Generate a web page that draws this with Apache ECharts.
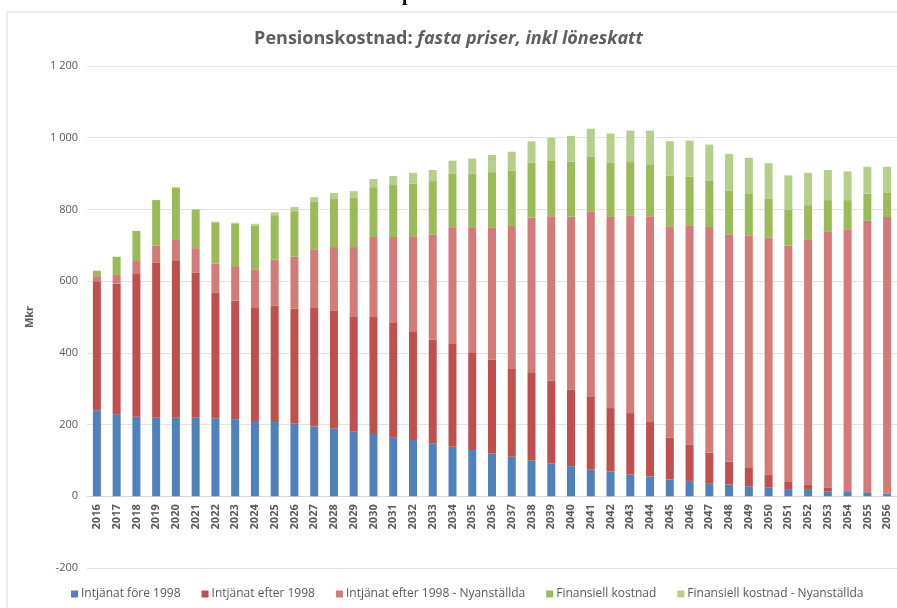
<!DOCTYPE html>
<html>
<head>
<meta charset="utf-8">
<script src="https://cdn.jsdelivr.net/npm/echarts@6/dist/echarts.min.js"></script>
<style>
  html, body { margin: 0; padding: 0; background: #fff; }
  #chart { width: 897px; height: 608px; }
</style>
</head>
<body>
<div id="chart"></div>
<script>
var years = [];
for (var y = 2016; y <= 2056; y++) {
    years.push(String(y));
}

var foreNittioatta = [240, 229, 222, 219, 219, 219, 217, 215, 210, 207, 202, 195, 188, 181, 174, 165, 157, 148, 138, 129, 119, 110, 100, 91, 84, 74, 69, 61, 55, 47, 43, 35, 33, 28, 24, 20, 18, 14, 14, 11, 7];
var efterNittioatta = [360, 364, 400, 432, 439, 405, 351, 331, 317, 325, 322, 332, 329, 319, 328, 318, 303, 289, 289, 273, 262, 247, 246, 232, 214, 205, 177, 171, 152, 117, 101, 87, 63, 51, 37, 20, 15, 11, 1, 1, 0];
var efterNyanstallda = [14, 24, 34, 48, 59, 68, 81, 96, 106, 128, 144, 162, 178, 195, 221, 240, 265, 292, 321, 346, 369, 397, 431, 458, 482, 516, 533, 552, 574, 589, 612, 629, 633, 648, 660, 659, 684, 714, 730, 756, 772];
var finansiell = [15, 51, 84, 127, 143, 108, 115, 119, 122, 124, 127, 132, 134, 137, 139, 145, 147, 150, 151, 152, 154, 155, 153, 156, 153, 153, 151, 148, 145, 141, 135, 130, 123, 116, 110, 101, 95, 87, 81, 76, 67];
var finansiellNyanstallda = [0, 0, 0, 0, 2, 0, 2, 2, 5, 8, 12, 13, 17, 19, 23, 25, 30, 31, 37, 42, 48, 52, 60, 63, 72, 77, 82, 88, 94, 96, 101, 100, 103, 101, 98, 95, 90, 84, 80, 75, 73];

var seriesNames = ['Intjänat före 1998', 'Intjänat efter 1998', 'Intjänat efter 1998 - Nyanställda', 'Finansiell kostnad', 'Finansiell kostnad - Nyanställda'];
var seriesColors = ['#4F81BD', '#C0504D', '#D27B79', '#9BBB59', '#B7CF8B'];
var seriesData = [foreNittioatta, efterNittioatta, efterNyanstallda, finansiell, finansiellNyanstallda];

var font = '"Open Sans", sans-serif';

var series = [];
for (var i = 0; i < seriesNames.length; i++) {
    series.push({
        name: seriesNames[i],
        type: 'bar',
        stack: 'total',
        barWidth: 8,
        data: seriesData[i],
        itemStyle: { color: seriesColors[i] }
    });
}

// grid: 1200 at y=66, -200 at y=568 -> 0 sits 71.7px above the bottom
var zeroOffset = -502 * 200 / 1400;

var myChart = echarts.init(document.getElementById('chart'));
var option = {
    animation: false,
    textStyle: { fontFamily: font },
    graphic: [
        {
            type: 'rect',
            shape: { x: 7, y: 12, width: 900, height: 620 },
            style: { fill: 'none', stroke: '#d9d9d9', lineWidth: 1 },
            silent: true
        },
        {
            type: 'text',
            x: 402,
            y: -15,
            style: {
                text: 'p',
                font: 'bold 20px "Liberation Serif", serif',
                fill: '#000'
            },
            silent: true
        }
    ],
    title: {
        left: 'center',
        top: 25,
        text: '{b|Pensionskostnad:} {i|fasta priser, inkl löneskatt}',
        textStyle: {
            rich: {
                b: { fontFamily: font, fontSize: 18, fontWeight: 'bold', color: '#5f5f5f' },
                i: { fontFamily: font, fontSize: 18, fontStyle: 'italic', color: '#5f5f5f' }
            }
        }
    },
    legend: {
        bottom: 3,
        left: 66,
        itemWidth: 7,
        itemHeight: 7,
        itemGap: 21,
        icon: 'rect',
        data: seriesNames,
        textStyle: { color: '#595959', fontSize: 12, fontFamily: font, padding: [0, 0, 0, -2] }
    },
    grid: {
        left: 87,
        right: 0,
        top: 66,
        bottom: 40,
        containLabel: false
    },
    xAxis: {
        type: 'category',
        data: years,
        offset: zeroOffset,
        axisLine: { onZero: false, lineStyle: { color: '#d9d9d9' } },
        axisTick: { length: 5, lineStyle: { color: '#d9d9d9' } },
        axisLabel: {
            rotate: 90,
            interval: 0,
            fontSize: 11,
            fontWeight: 'bold',
            color: '#595959',
            margin: 8
        }
    },
    yAxis: {
        type: 'value',
        min: -200,
        max: 1200,
        interval: 200,
        name: 'Mkr',
        nameLocation: 'middle',
        nameGap: 52,
        nameTextStyle: { color: '#595959', fontSize: 11, fontWeight: 'bold' },
        axisLine: { show: false },
        axisTick: { show: false },
        splitLine: { lineStyle: { color: '#e3e3e3' } },
        axisLabel: {
            fontSize: 11,
            color: '#595959',
            margin: 9,
            formatter: function (v) {
                return String(v).replace(/\B(?=(\d{3})+(?!\d))/g, ' ');
            }
        }
    },
    series: series
};
myChart.setOption(option);
</script>
</body>
</html>
